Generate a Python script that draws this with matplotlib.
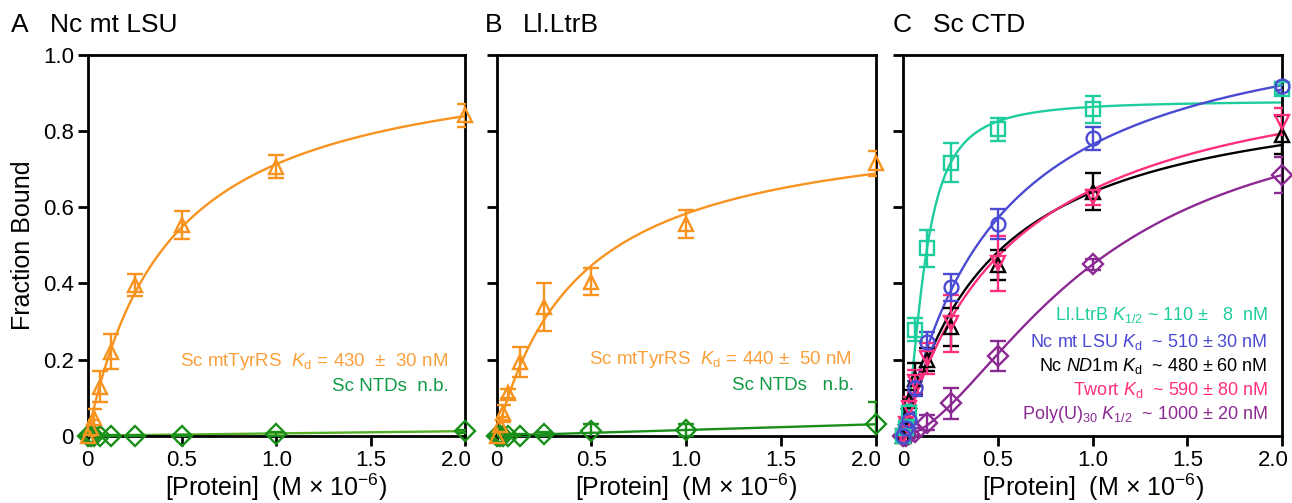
import numpy as np
import matplotlib
matplotlib.use("Agg")
import matplotlib.pyplot as plt
from matplotlib.transforms import ScaledTranslation

plt.rcParams["font.family"] = ["Liberation Sans", "DejaVu Sans"]
plt.rcParams["mathtext.fontset"] = "custom"
plt.rcParams["mathtext.rm"] = "Liberation Sans"
plt.rcParams["mathtext.it"] = "Liberation Sans:italic"

# protein concentrations (uM)
conc = [0, 0.0156, 0.03125, 0.0625, 0.125, 0.25, 0.5, 1.0, 2.0]

# panel A  Nc mt LSU
a_tyr = [0.0, 0.02, 0.046, 0.129, 0.221, 0.396, 0.553, 0.707, 0.842]
a_tyr_err = [0.02, 0.02, 0.025, 0.04, 0.045, 0.029, 0.037, 0.03, 0.03]
a_ntd = [0.0, 0.0, 0.0, 0.0, 0.0, 0.0, 0.0, 0.005, 0.012]
a_ntd_err = [0.003, 0.003, 0.003, 0.003, 0.003, 0.003, 0.003, 0.005, 0.004]

# panel B  Ll.LtrB
b_tyr = [0.0, 0.028, 0.059, 0.111, 0.194, 0.339, 0.405, 0.556, 0.715]
b_tyr_err = [0.02, 0.02, 0.022, 0.012, 0.04, 0.063, 0.036, 0.037, 0.032]
b_ntd = [0.0, 0.0, 0.0, 0.0, 0.0, 0.005, 0.012, 0.015, 0.03]
b_ntd_err = [0.003, 0.003, 0.003, 0.003, 0.004, 0.006, 0.02, 0.015, 0.058]

# panel C  Sc CTD
c_ltrb = [0.0, 0.02, 0.06, 0.278, 0.492, 0.717, 0.805, 0.857, 0.91]
c_ltrb_err = [0.01, 0.015, 0.02, 0.03, 0.048, 0.051, 0.03, 0.035, 0.012]
c_lsu = [0.0, 0.02, 0.041, 0.124, 0.247, 0.39, 0.556, 0.781, 0.919]
c_lsu_err = [0.01, 0.015, 0.02, 0.02, 0.025, 0.036, 0.04, 0.03, 0.01]
c_nd1 = [0.0, 0.05, 0.09, 0.15, 0.2, 0.286, 0.448, 0.641, 0.79]
c_nd1_err = [0.01, 0.03, 0.03, 0.04, 0.03, 0.05, 0.04, 0.048, 0.05]
c_twort = [0.0, 0.03, 0.072, 0.142, 0.203, 0.295, 0.453, 0.626, 0.825]
c_twort_err = [0.01, 0.03, 0.03, 0.03, 0.04, 0.075, 0.072, 0.02, 0.035]
c_polyu = [0.0, 0.0, 0.005, 0.01, 0.034, 0.085, 0.209, 0.45, 0.685]
c_polyu_err = [0.005, 0.005, 0.005, 0.01, 0.02, 0.04, 0.04, 0.015, 0.047]

# fit parameters (Bmax, K, Hill n)
fit_a_tyr = (1.02, 0.43, 1.0)
fit_b_tyr = (0.84, 0.44, 1.0)
fit_c_ltrb = (0.88, 0.11, 1.8)
fit_c_lsu = (1.155, 0.51, 1.0)
fit_c_nd1 = (0.947, 0.48, 1.0)
fit_c_twort = (1.028, 0.59, 1.0)
fit_c_polyu = (0.90, 1.0, 1.67)
slope_a_ntd = 0.006
slope_b_ntd = 0.015

ORANGE = "#f7931e"
ORANGE_TXT = "#f9a03c"
GREEN = "#1a8f1a"
GREEN_LINE = "#55b027"
GREEN_TXT = "#119a45"
TEAL = "#1fcc9e"
BLUE = "#4a4ad2"
PINK = "#ff2f7e"
PURPLE = "#8c2a93"

xs = np.linspace(0, 2, 400)


def hill(p):
    bmax, k, n = p
    return bmax * xs ** n / (k ** n + xs ** n)


def series(ax, y, err, color, marker, fit=None, linecolor=None):
    if fit is not None:
        ax.plot(xs, fit, color=linecolor or color, lw=1.7, zorder=2)
    ax.errorbar(conc, y, yerr=err, fmt="none", ecolor=color, elinewidth=1.7,
                capsize=5.5, capthick=1.7, zorder=3)
    ax.plot(conc, y, ls="none", marker=marker, ms=10, mfc="none", mec=color,
            mew=1.7, clip_on=False, zorder=4)


fig = plt.figure(figsize=(12.92, 5.03), dpi=100)
axA = fig.add_axes([0.0679, 0.1338, 0.292, 0.7569])
axB = fig.add_axes([0.3844, 0.1338, 0.2933, 0.7569])
axC = fig.add_axes([0.6991, 0.1338, 0.2933, 0.7569])

for ax in (axA, axB, axC):
    ax.set_xlim(0, 2)
    ax.set_ylim(0, 1)
    ax.set_xticks([0, 0.5, 1.0, 1.5, 2.0])
    ax.set_xticklabels(["0", "0.5", "1.0", "1.5", "2.0"])
    ax.set_yticks([0, 0.2, 0.4, 0.6, 0.8, 1.0])
    ax.tick_params(direction="out", length=7, width=2, labelsize=16, pad=3)
    for s in ax.spines.values():
        s.set_linewidth(2)
    # last x label sits a little left of its tick, as in the original
    last = ax.get_xticklabels()[-1]
    last.set_transform(last.get_transform() + ScaledTranslation(-9 / 100, 0, fig.dpi_scale_trans))
    ax.text(0.5, -0.135, r"[Protein]  (M × 10$^{\mathregular{-6}}$)",
            transform=ax.transAxes, ha="center", va="center", fontsize=18)

axA.set_yticklabels(["0", "0.2", "0.4", "0.6", "0.8", "1.0"])
axB.set_yticklabels([])
axC.set_yticklabels([])

# panel A
series(axA, a_ntd, a_ntd_err, GREEN, "D", slope_a_ntd * xs, GREEN_LINE)
series(axA, a_tyr, a_tyr_err, ORANGE, "^", hill(fit_a_tyr))
axA.text(0.955, 0.195, r"Sc mtTyrRS  $K_{\mathregular{d}}$ = 430  ±  30 nM",
         transform=axA.transAxes, ha="right", va="center", color=ORANGE_TXT, fontsize=13.5)
axA.text(0.958, 0.13, "Sc NTDs  n.b.", transform=axA.transAxes, ha="right",
         va="center", color=GREEN_TXT, fontsize=13.5)

# panel B
series(axB, b_ntd, b_ntd_err, GREEN, "D", slope_b_ntd * xs)
series(axB, b_tyr, b_tyr_err, ORANGE, "^", hill(fit_b_tyr))
axB.text(0.937, 0.2, r"Sc mtTyrRS  $K_{\mathregular{d}}$ = 440 ±  50 nM",
         transform=axB.transAxes, ha="right", va="center", color=ORANGE_TXT, fontsize=13.5)
axB.text(0.942, 0.132, "Sc NTDs   n.b.", transform=axB.transAxes, ha="right",
         va="center", color=GREEN_TXT, fontsize=13.5)

# panel C
series(axC, c_polyu, c_polyu_err, PURPLE, "D", hill(fit_c_polyu))
series(axC, c_nd1, c_nd1_err, "black", "^", hill(fit_c_nd1))
series(axC, c_twort, c_twort_err, PINK, "v", hill(fit_c_twort))
series(axC, c_ltrb, c_ltrb_err, TEAL, "s", hill(fit_c_ltrb))
series(axC, c_lsu, c_lsu_err, BLUE, "o", hill(fit_c_lsu))

labels_c = [
    (r"Ll.LtrB $K_{\mathregular{1/2}}$ ~ 110 ±   8  nM", TEAL, 315),
    (r"Nc mt LSU $K_{\mathregular{d}}$  ~ 510 ± 30 nM", BLUE, 341.7),
    (r"Nc $\mathit{ND1}$m $K_{\mathregular{d}}$  ~ 480 ± 60 nM", "black", 366),
    (r"Twort $K_{\mathregular{d}}$  ~ 590 ± 80 nM", PINK, 390),
    (r"Poly(U)$_{\mathregular{30}}$ $K_{\mathregular{1/2}}$  ~ 1000 ± 20 nM", PURPLE, 414.3),
]
for txt, col, ypix in labels_c:
    axC.text(0.962, (435.7 - ypix) / 380.7, txt, transform=axC.transAxes,
             ha="right", va="center", color=col, fontsize=13)

# panel titles
fig.text(11 / 1292, 0.936, "A", fontsize=19, va="baseline")
fig.text(50 / 1292, 0.936, "Nc mt LSU", fontsize=19, va="baseline")
fig.text(485 / 1292, 0.936, "B", fontsize=19, va="baseline")
fig.text(523 / 1292, 0.936, "Ll.LtrB", fontsize=19, va="baseline")
fig.text(893 / 1292, 0.936, "C", fontsize=19, va="baseline")
fig.text(933 / 1292, 0.936, "Sc CTD", fontsize=19, va="baseline")

fig.text(23 / 1292, 0.512, "Fraction Bound", rotation=90, ha="center",
         va="center", fontsize=18)

fig.savefig("out.png", dpi=100)
